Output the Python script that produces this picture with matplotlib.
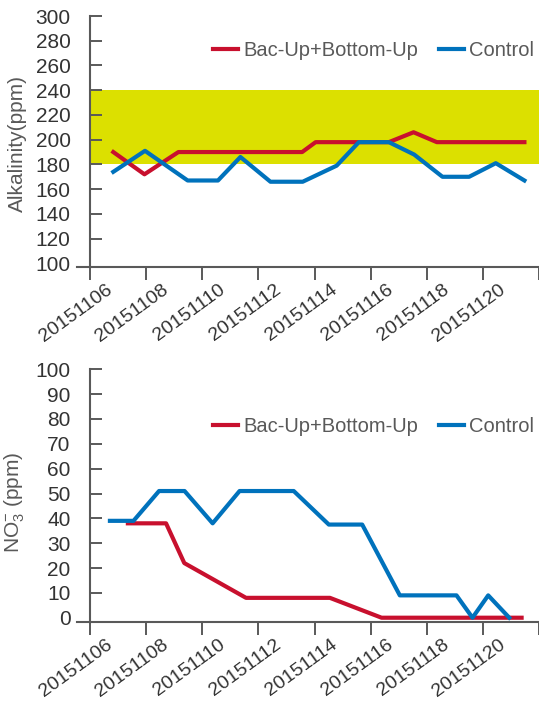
import matplotlib.pyplot as plt
from matplotlib.transforms import ScaledTranslation

plt.rcParams['font.family'] = ['Liberation Sans', 'DejaVu Sans']
plt.rcParams['mathtext.fontset'] = 'custom'
plt.rcParams['mathtext.rm'] = 'Liberation Sans'
plt.rcParams['mathtext.it'] = 'Liberation Sans:italic'

# x 轴: 20151106 之后的天数
date_ticks = [0, 2, 4, 6, 8, 10, 12, 14, 16]
date_labels = ['20151106', '20151108', '20151110', '20151112',
               '20151114', '20151116', '20151118', '20151120', '']

# 碱度
alk_ctrl_day = [0.83, 1.96, 3.48, 4.56, 5.36, 6.43, 7.58, 8.79, 9.58,
                10.65, 11.55, 12.56, 13.51, 14.46, 15.48]
alk_ctrl = [174, 191, 167, 167, 186, 166, 166, 179, 198, 198, 188, 170, 170, 181, 167]
alk_bac_day = [0.83, 1.94, 3.15, 7.56, 8.04, 10.65, 11.53, 12.36, 15.48]
alk_bac = [190, 172, 190, 190, 198, 198, 206, 198, 198]
alk_band = (180, 240)
alk_yticks = [100, 120, 140, 160, 180, 200, 220, 240, 260, 280, 300]

# 硝酸盐
no3_ctrl_day = [0.71, 1.55, 2.46, 3.37, 4.37, 5.33, 7.26, 8.51, 9.70,
                11.04, 13.06, 13.63, 14.19, 14.94]
no3_ctrl = [39, 39, 51, 51, 38, 51, 51, 37.5, 37.5, 9, 9, 0, 9, 0]
no3_bac_day = [1.35, 2.71, 3.36, 5.56, 8.55, 10.39, 15.38]
no3_bac = [38, 38, 22, 8, 8, 0, 0]
no3_yticks = [0, 10, 20, 30, 40, 50, 60, 70, 80, 90, 100]

RED = '#C8102E'
BLUE = '#0072BC'
AXC = '#595959'
W, H = 539, 702

fig = plt.figure(figsize=(W / 100, H / 100), dpi=100)


def px_axes(left, top, right, bottom):
    return fig.add_axes([left / W, 1 - bottom / H, (right - left) / W, (bottom - top) / H])


def style(ax, yticks, ymin, ymax):
    ax.set_xlim(0, 16)
    ax.set_ylim(ymin, ymax)
    for s in ['top', 'right']:
        ax.spines[s].set_visible(False)
    for s in ['left', 'bottom']:
        ax.spines[s].set_color(AXC)
        ax.spines[s].set_linewidth(1.5)
    ax.set_yticks(yticks)
    ax.set_xticks(date_ticks)
    ax.set_xticklabels(date_labels, rotation=36, ha='right', va='center',
                       rotation_mode='anchor')
    ax.tick_params(axis='y', direction='in', length=8.5, width=1.4, color=AXC,
                   pad=14, labelsize=15, labelcolor='#333333')
    ax.tick_params(axis='x', direction='out', length=9.5, width=1.4, color=AXC,
                   pad=6, labelsize=14, labelcolor='#333333')
    ax.yaxis.get_major_ticks()[0].tick1line.set_visible(False)
    off = ScaledTranslation(15 / 72, 0, fig.dpi_scale_trans)
    for lab in ax.get_xticklabels():
        lab.set_transform(lab.get_transform() + off)
    ax.plot([-13 / 449, 0], [0, 0], transform=ax.transAxes, color=AXC,
            lw=1.5, clip_on=False)


def legend(ax, ypx):
    ax.legend(loc='center left', bbox_to_anchor=(213 / W, 1 - ypx / H),
              bbox_transform=fig.transFigure, ncol=2, frameon=False,
              fontsize=14.5, handlelength=1.25, handletextpad=0.25,
              columnspacing=1.05, borderpad=0, borderaxespad=0,
              labelcolor='#595959')


# 上图
ax1 = px_axes(90, 16, 539, 266.7)
ax1.axhspan(alk_band[0], alk_band[1], color='#DCE000', lw=0, zorder=0)
ax1.plot(alk_bac_day, alk_bac, color=RED, lw=3, label='Bac-Up+Bottom-Up')
ax1.plot(alk_ctrl_day, alk_ctrl, color=BLUE, lw=3, label='Control')
style(ax1, alk_yticks, 97.3, 300)
ax1.set_ylabel('Alkalinity(ppm)', fontsize=15, color='#595959')
ax1.yaxis.set_label_coords(-0.14, 0.49)
legend(ax1, 51)

# 下图
ax2 = px_axes(90, 369.3, 539, 621.7)
ax2.plot(no3_bac_day, no3_bac, color=RED, lw=3, label='Bac-Up+Bottom-Up')
ax2.plot(no3_ctrl_day, no3_ctrl, color=BLUE, lw=3, label='Control')
style(ax2, no3_yticks, -1.6, 100)
ax2.set_ylabel(r'NO$_3^{\mathregular{-}}$ (ppm)', fontsize=15, color='#595959')
ax2.yaxis.set_label_coords(-0.14, 0.474)
legend(ax2, 426.7)

plt.savefig('out.png', dpi=100)
